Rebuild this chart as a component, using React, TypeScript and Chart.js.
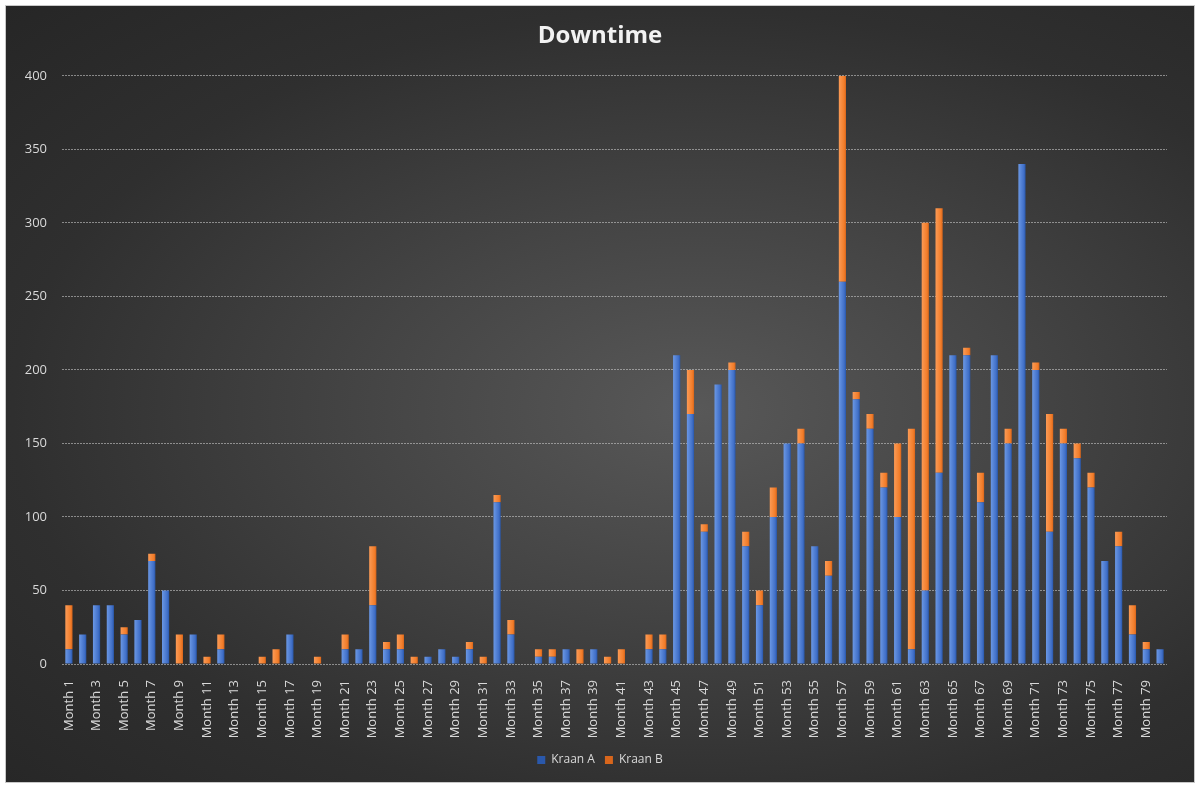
import React, { useEffect, useRef } from 'react';
import { Chart, registerables } from 'chart.js';

Chart.register(...registerables);

// Chart data
const months: string[] = Array.from({ length: 80 }, (_, i) => `Month ${i + 1}`);

const kraanA: number[] = [
  10, 20, 40, 40, 20, 30, 70, 50, 0, 20,
  0, 10, 0, 0, 0, 0, 20, 0, 0, 0,
  10, 10, 40, 10, 10, 0, 5, 10, 5, 10,
  0, 110, 20, 0, 5, 5, 10, 0, 10, 0,
  0, 0, 10, 10, 210, 170, 90, 190, 200, 80,
  40, 100, 150, 150, 80, 60, 260, 180, 160, 120,
  100, 10, 50, 130, 210, 210, 110, 210, 150, 340,
  200, 90, 150, 140, 120, 70, 80, 20, 10, 10,
];

const kraanB: number[] = [
  30, 0, 0, 0, 5, 0, 5, 0, 20, 0,
  5, 10, 0, 0, 5, 10, 0, 0, 5, 0,
  10, 0, 40, 5, 10, 5, 0, 0, 0, 5,
  5, 5, 10, 0, 5, 5, 0, 10, 0, 5,
  10, 0, 10, 10, 0, 30, 5, 0, 5, 10,
  10, 20, 0, 10, 0, 10, 140, 5, 10, 10,
  50, 150, 250, 180, 0, 5, 20, 0, 10, 0,
  5, 80, 10, 10, 10, 0, 10, 20, 5, 0,
];

const yTicks: number[] = [0, 50, 100, 150, 200, 250, 300, 350, 400];

const FONT = "'Open Sans', 'Noto Sans', sans-serif";
const TEXT = '#d9d9d9';

// Horizontal shading on each bar, like the Excel 3D column look
const barShade = (light: string, dark: string, solid: string) => (ctx: any) => {
  const chart = ctx.chart;
  const xScale = chart.scales?.x;
  if (!chart.chartArea || !xScale || ctx.dataIndex === undefined) return solid;
  const x = xScale.getPixelForValue(ctx.dataIndex);
  const g = chart.ctx.createLinearGradient(x - 3.5, 0, x + 3.5, 0);
  g.addColorStop(0, light);
  g.addColorStop(0.75, solid);
  g.addColorStop(1, dark);
  return g;
};

const DowntimeChart: React.FC = () => {
  const canvasRef = useRef<HTMLCanvasElement>(null);
  const chartRef = useRef<Chart | null>(null);

  useEffect(() => {
    if (!canvasRef.current) return;
    const ctx = canvasRef.current.getContext('2d');
    if (!ctx) return;

    chartRef.current = new Chart(ctx, {
      type: 'bar',
      data: {
        labels: months,
        datasets: [
          {
            label: 'Kraan A',
            data: kraanA,
            backgroundColor: barShade('#6a97e4', '#2a58ab', '#4170c8'),
            borderWidth: 0,
            barPercentage: 0.52,
            categoryPercentage: 1,
          },
          {
            label: 'Kraan B',
            data: kraanB,
            backgroundColor: barShade('#fb9a55', '#d8661c', '#f27d2a'),
            borderWidth: 0,
            barPercentage: 0.52,
            categoryPercentage: 1,
          },
        ],
      },
      options: {
        responsive: true,
        maintainAspectRatio: false,
        animation: false,
        layout: { padding: { left: 19, right: 19, top: 0, bottom: 6 } },
        scales: {
          x: {
            stacked: true,
            grid: { display: false },
            border: { display: false },
            ticks: {
              autoSkip: false,
              maxRotation: 90,
              minRotation: 90,
              padding: 8,
              color: TEXT,
              font: { family: FONT, size: 13 },
              callback: (_v, i) => (i % 2 === 0 ? months[i] : ''),
            },
            afterFit: (scale) => {
              scale.height = 80;
            },
          },
          y: {
            stacked: true,
            min: 0,
            max: 400,
            grid: {
              color: 'rgba(200, 200, 200, 0.6)',
              drawTicks: false,
            },
            border: { display: false, dash: [2, 1] },
            afterBuildTicks: (scale) => {
              scale.ticks = yTicks.map((v) => ({ value: v }));
            },
            ticks: {
              padding: 15,
              color: TEXT,
              font: { family: FONT, size: 13 },
            },
            afterFit: (scale) => {
              scale.width = 37;
            },
          },
          // empty spacer on the right so title and legend stay centred
          spacer: {
            type: 'linear',
            position: 'right',
            grid: { display: false },
            border: { display: false },
            ticks: { display: false },
            afterFit: (scale) => {
              scale.width = 8;
            },
          },
        },
        plugins: {
          title: {
            display: true,
            text: 'Downtime',
            color: '#f2f2f2',
            font: { family: FONT, size: 24, weight: 'bold' },
            padding: { top: 16, bottom: 25 },
          },
          legend: {
            position: 'bottom',
            labels: {
              color: TEXT,
              boxWidth: 8,
              boxHeight: 8,
              padding: 10,
              font: { family: FONT, size: 12 },
            },
          },
          tooltip: { enabled: false },
        },
      },
    });

    return () => {
      if (chartRef.current) {
        chartRef.current.destroy();
        chartRef.current = null;
      }
    };
  }, []);

  return (
    <div
      style={{
        position: 'absolute',
        left: 5,
        top: 5,
        width: 1188,
        height: 776,
        border: '1px solid #c8c8c8',
        background:
          'radial-gradient(ellipse at 58% 52%, #585858 0%, #444444 35%, #2f2f2f 70%, #262626 100%)',
      }}
    >
      <canvas ref={canvasRef}></canvas>
    </div>
  );
};

export default function App() {
  return <DowntimeChart />;
}
